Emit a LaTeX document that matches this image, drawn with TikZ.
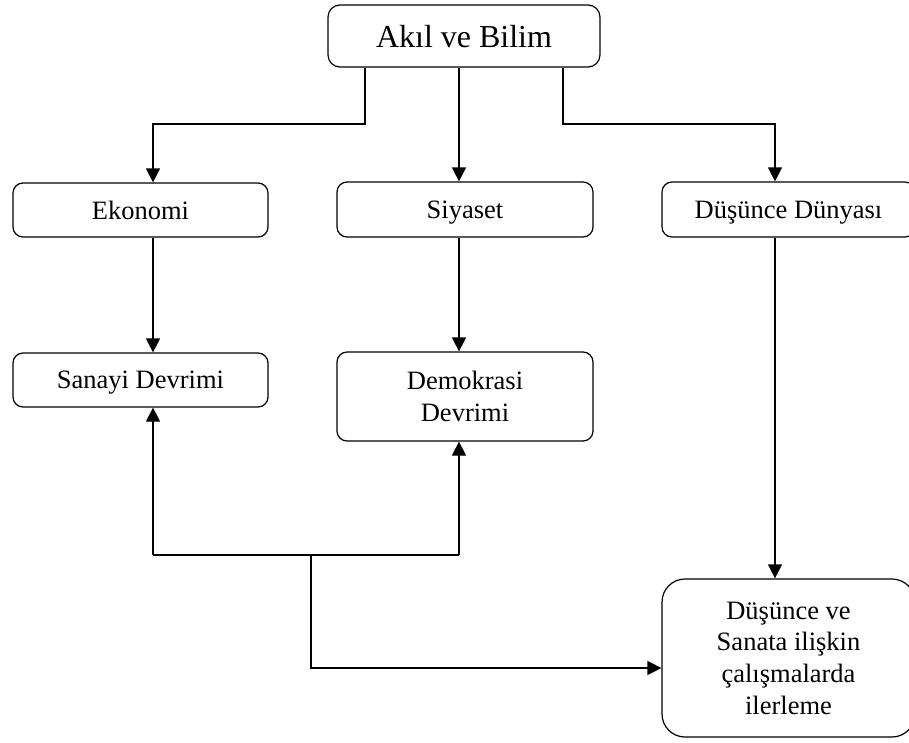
\documentclass[tikz,border=0pt]{standalone}
\usepackage{fontspec}
\setmainfont{Liberation Serif}
\usetikzlibrary{arrows.meta}

\begin{document}
\begin{tikzpicture}[x=1pt,y=-1pt,
    box/.style={draw,line width=1.2pt,rounded corners=10pt,inner sep=0pt,
      align=center,text depth=0pt,font=\fontsize{26.5}{31.7}\selectfont},
    arr/.style={line width=1.2pt,-{Triangle[length=14pt,width=14pt]}},
    link/.style={line width=1.2pt}]

        \path[use as bounding box] (0,0) rectangle (909,742);
        \clip (0,0) rectangle (909,742);

        \begin{scope}[every node/.style={box}]
          \node (akil)      at (464,36)      [minimum width=272pt,minimum height=62pt,
                                              rounded corners=12pt,font=\fontsize{32}{38}\selectfont] {Akıl ve Bilim};
          \node (ekonomi)   at (140.5,210)   [minimum width=255pt,minimum height=54pt] {Ekonomi};
          \node (siyaset)   at (465,209.5)   [minimum width=256pt,minimum height=55pt] {Siyaset};
          \node (dunya)     at (788.5,209.5) [minimum width=253pt,minimum height=55pt] {Düşünce Dünyası};
          \node (sanayi)    at (140.5,380)   [minimum width=255pt,minimum height=54pt] {Sanayi Devrimi};
          \node (demokrasi) at (465,396.5)   [minimum width=256pt,minimum height=89pt] {Demokrasi\\Devrimi};
          \node (ilerleme)  at (788.5,658)   [minimum width=253pt,minimum height=158pt,
                                              rounded corners=23pt] {Düşünce ve\\Sanata ilişkin\\çalışmalarda\\ilerleme};
        \end{scope}

        % bend points
        \coordinate (left top)   at (365,124);
        \coordinate (left col)   at (153,124);
        \coordinate (mid col)    at (459,124);
        \coordinate (right top)  at (563,124);
        \coordinate (right col)  at (775,124);
        \coordinate (fork left)  at (153,555);
        \coordinate (fork right) at (459,555);
        \coordinate (fork mid)   at (311,555);
        \coordinate (feed)       at (311,668);

        \draw[arr] (akil.south -| left top) |- (left col) -- (ekonomi.north -| left col);
        \draw[arr] (akil.south -| mid col) -- (siyaset.north -| mid col);
        \draw[arr] (akil.south -| right top) |- (right col) -- (dunya.north -| right col);

        \draw[arr] (ekonomi.south -| left col) -- (sanayi.north -| left col);
        \draw[arr] (siyaset.south -| mid col) -- (demokrasi.north -| mid col);
        \draw[arr] (dunya.south -| right col) -- (ilerleme.north -| right col);

        \draw[link] (fork left) -- (fork right);
        \draw[arr] (fork left) -- (sanayi.south -| fork left);
        \draw[arr] (fork right) -- (demokrasi.south -| fork right);
        \draw[arr] (fork mid) -- (feed) -- (ilerleme.west |- feed);

      \end{tikzpicture}
\end{document}
